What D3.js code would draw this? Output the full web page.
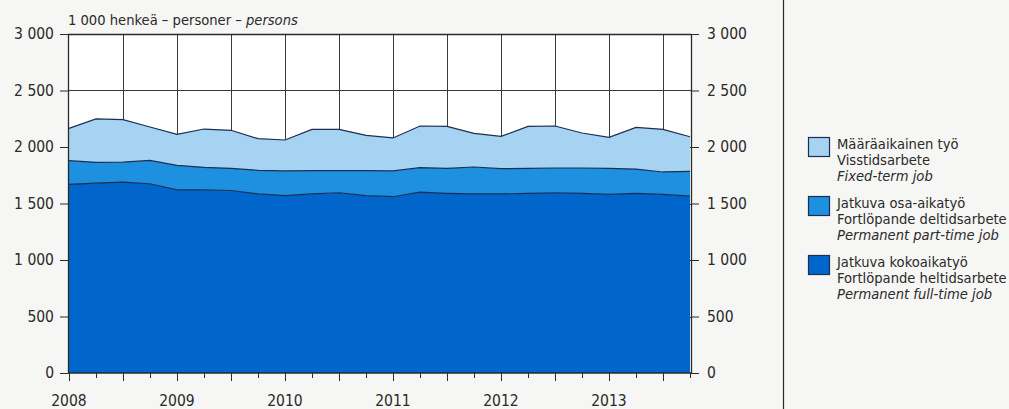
<!DOCTYPE html>
<html><head><meta charset="utf-8">
<script src="https://cdn.jsdelivr.net/npm/d3@7"></script>
<style>
html,body{margin:0;padding:0;background:#f6f6f4;}
svg{display:block;}
text{font-family:"Liberation Sans Narrow","DejaVu Sans Condensed","Roboto",sans-serif;fill:#2a2a2a;}
</style></head>
<body>
<svg id="chart" width="1009" height="409"></svg>
<script>
// Quarterly data 2008Q1 .. 2013Q4, 1 000 persons
const quarters = d3.range(24);
const yearLabels = ["2008","2009","2010","2011","2012","2013"];
const fullTime  = [1670,1680,1690,1675,1620,1620,1615,1585,1570,1585,1595,1570,1560,1600,1590,1585,1585,1590,1595,1590,1580,1590,1580,1565];
const partTime  = [209,184,176,207,218,200,196,209,218,206,196,221,228,217,221,238,223,221,219,224,231,215,199,220];
const fixedTerm = [286,384,376,295,274,339,337,280,274,365,365,312,292,369,372,298,286,372,372,310,275,369,377,306];
const seriesKeys = ["full","part","fixed"];
const seriesColors = {full:"#0066cc", part:"#1d90df", fixed:"#a7d3f3"};
const legendItems = [
  {key:"fixed", lines:["Määräaikainen työ","Visstidsarbete","Fixed-term job"]},
  {key:"part",  lines:["Jatkuva osa-aikatyö","Fortlöpande deltidsarbete","Permanent part-time job"]},
  {key:"full",  lines:["Jatkuva kokoaikatyö","Fortlöpande heltidsarbete","Permanent full-time job"]}
];
const yTicks = [0,500,1000,1500,2000,2500,3000];

const svg = d3.select("#chart");
const L=68, R=691, T=34, B=373;
const x = d3.scaleLinear().domain([0,23]).range([L+1,R-1]);
const y = d3.scaleLinear().domain([0,3000]).range([B,T]);
const fmt = d3.formatLocale({decimal:",", thousands:"\u2009", grouping:[3]}).format(",d");
const fmtS = v => fmt(v).replace("\u2009"," ");

const table = quarters.map(i => ({i, full:fullTime[i], part:partTime[i], fixed:fixedTerm[i]}));
const stacked = d3.stack().keys(seriesKeys)(table);

// plot background
svg.append("rect").attr("x",L).attr("y",T).attr("width",R-L).attr("height",B-T).attr("fill","#fff");

// gridlines
const grid = svg.append("g").attr("stroke","#3a3a3a").attr("stroke-width",1);
grid.selectAll("line.v").data(quarters.filter(i=>i%2===0 && i>0)).join("line")
  .attr("x1",d=>Math.round(x(d))+0.5).attr("x2",d=>Math.round(x(d))+0.5).attr("y1",T).attr("y2",B);
grid.selectAll("line.h").data([2500,2000,1500,1000,500]).join("line")
  .attr("x1",L).attr("x2",R).attr("y1",d=>Math.round(y(d))+0.5).attr("y2",d=>Math.round(y(d))+0.5);

// areas
const area = d3.area().x(d=>x(d.data.i)).y0(d=>y(d[0])).y1(d=>y(d[1]));
const line = d3.line().x(d=>x(d.data.i)).y(d=>y(d[1]));
svg.append("g").selectAll("path").data(stacked).join("path")
  .attr("d",area).attr("fill",d=>seriesColors[d.key]);
svg.append("g").selectAll("path").data(stacked).join("path")
  .attr("d",line).attr("fill","none").attr("stroke","#1c2f52").attr("stroke-width",1.2);

// axes
const axL = d3.axisLeft(y).tickValues(yTicks).tickSize(8).tickPadding(6).tickFormat(fmtS);
const axR = d3.axisRight(y).tickValues(yTicks).tickSize(8).tickPadding(8).tickFormat(fmtS);
function style(g){
  g.select(".domain").attr("stroke","#2a2a2a").attr("stroke-width",1.3);
  g.selectAll(".tick line").attr("stroke","#2a2a2a").attr("stroke-width",1);
  g.selectAll(".tick text").attr("font-size",15.5).attr("fill","#2a2a2a").attr("font-family",null);
}
svg.append("g").attr("transform",`translate(${L},0)`).call(axL.tickSizeOuter(0)).call(style);
svg.append("g").attr("transform",`translate(${R},0)`).call(axR.tickSizeOuter(0)).call(style);

// bottom axis
const axB = svg.append("g").attr("transform",`translate(0,${B})`);
axB.append("line").attr("x1",L).attr("x2",R).attr("y1",0).attr("y2",0).attr("stroke","#2a2a2a").attr("stroke-width",1.3);
axB.selectAll("line.t").data(quarters.concat([23])).join("line")
  .attr("x1",d=>Math.round(x(d))+0.5).attr("x2",d=>Math.round(x(d))+0.5)
  .attr("y1",0).attr("y2",d=>d%2===0?8:5).attr("stroke","#2a2a2a");
axB.selectAll("text").data(yearLabels).join("text")
  .attr("x",(d,k)=>x(k*4)).attr("y",33).attr("text-anchor","middle").attr("font-size",15.5).text(d=>d);

// top frame
svg.append("line").attr("x1",L).attr("x2",R).attr("y1",T+0.5).attr("y2",T+0.5).attr("stroke","#2a2a2a").attr("stroke-width",1.3);

// title
const title = svg.append("text").attr("x",L).attr("y",25).attr("font-size",14.6);
title.append("tspan").text("1 000 henkeä – personer – ");
title.append("tspan").attr("font-style","italic").text("persons");

// separator
svg.append("line").attr("x1",783.5).attr("x2",783.5).attr("y1",0).attr("y2",409).attr("stroke","#2a2a2a").attr("stroke-width",1.2);

// legend
const lg = svg.append("g").selectAll("g").data(legendItems).join("g")
  .attr("transform",(d,k)=>`translate(808,${137+k*59})`);
lg.append("rect").attr("x",0.5).attr("y",0.5).attr("width",21).attr("height",19)
  .attr("fill",d=>seriesColors[d.key]).attr("stroke","#1c2f52").attr("stroke-width",1.2);
lg.each(function(d){
  const g=d3.select(this);
  d.lines.forEach((t,j)=>{
    g.append("text").attr("x",29).attr("y",12+j*15.8).attr("font-size",14.6)
      .attr("font-style",j===2?"italic":null).text(t);
  });
});
</script>
</body></html>
